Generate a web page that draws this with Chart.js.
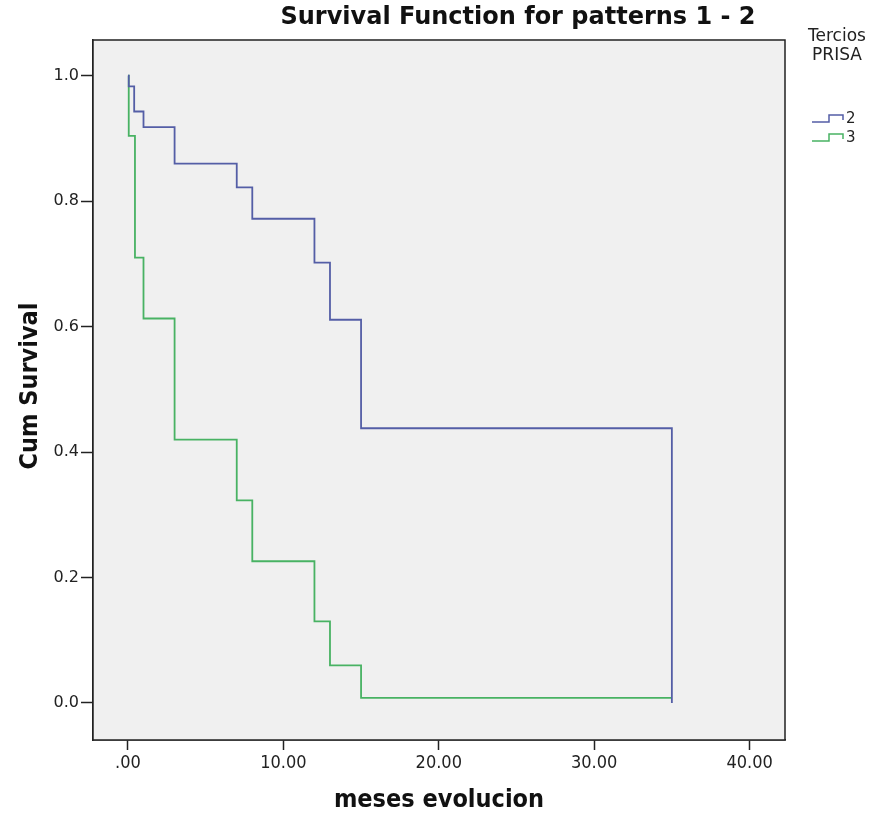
<!DOCTYPE html>
<html>
<head>
<meta charset="utf-8">
<script src="https://cdn.jsdelivr.net/npm/chart.js@4/dist/chart.umd.min.js"></script>
<style>
  html, body { margin: 0; padding: 0; background: #fff; }
  #wrap { width: 889px; height: 816px; }
</style>
</head>
<body>
<div id="wrap"><canvas id="myChart" width="889" height="816"></canvas></div>
<script>
// survival curves (time in months, cum survival after the step)
const group2Times = [0, 0.05, 0.4, 1, 3, 7, 8, 12, 13, 15, 35];
const group2Surv  = [1.0, 0.983, 0.943, 0.918, 0.86, 0.822, 0.772, 0.702, 0.611, 0.438, 0.0];
const group3Times = [0, 0.05, 0.45, 1, 3, 7, 8, 12, 13, 15, 35];
const group3Surv  = [1.0, 0.904, 0.71, 0.613, 0.42, 0.323, 0.226, 0.13, 0.06, 0.008, 0.008];
const groupLabels = ['2', '3'];
const groupColors = ['#545ea6', '#48b263'];

const titleText = 'Survival Function for patterns 1 - 2';
const xTitle = 'meses evolucion';
const yTitle = 'Cum Survival';
const legendTitle = ['Tercios', 'PRISA'];

function toPoints(xs, ys) {
    return xs.map((x, i) => ({x: x, y: ys[i]}));
}

const decor = {
    id: 'decor',
    beforeDatasetsDraw(chart) {
        const a = chart.chartArea;
        const ctx = chart.ctx;
        ctx.save();
        ctx.fillStyle = '#f0f0f0';
        ctx.fillRect(a.left, a.top, a.right - a.left, a.bottom - a.top);
        ctx.restore();
    },
    afterDraw(chart) {
        const a = chart.chartArea;
        const ctx = chart.ctx;
        ctx.save();
        // frame
        ctx.strokeStyle = '#222';
        ctx.lineWidth = 1.5;
        ctx.strokeRect(a.left, a.top, a.right - a.left, a.bottom - a.top);

        // title
        ctx.fillStyle = '#111';
        ctx.textBaseline = 'middle';
        ctx.textAlign = 'center';
        ctx.font = 'bold 24px "DejaVu Sans"';
        ctx.fillText(titleText, 518, 18);

        // axis titles
        ctx.font = 'bold 25px "DejaVu Sans Condensed", "DejaVu Sans"';
        ctx.fillText(xTitle, 439, 800);
        ctx.save();
        ctx.translate(30, 386);
        ctx.rotate(-Math.PI / 2);
        ctx.fillText(yTitle, 0, 0);
        ctx.restore();

        // legend
        ctx.font = '17px "DejaVu Sans"';
        ctx.fillStyle = '#222';
        ctx.fillText(legendTitle[0], 837, 37);
        ctx.fillText(legendTitle[1], 837, 56);
        ctx.font = '15px "DejaVu Sans"';
        ctx.textAlign = 'left';
        chart.data.datasets.forEach((ds, i) => {
            const y = 119 + i * 19;
            ctx.strokeStyle = ds.borderColor;
            ctx.lineWidth = 1.5;
            ctx.beginPath();
            ctx.moveTo(812, y + 3);
            ctx.lineTo(829, y + 3);
            ctx.lineTo(829, y - 4);
            ctx.lineTo(843, y - 4);
            ctx.lineTo(843, y + 1);
            ctx.stroke();
            ctx.fillStyle = '#222';
            ctx.fillText(ds.label, 846, y);
        });
        ctx.restore();
    }
};

const ctx = document.getElementById('myChart').getContext('2d');
const myChart = new Chart(ctx, {
    type: 'line',
    data: {
        datasets: [
            {
                label: groupLabels[0],
                data: toPoints(group2Times, group2Surv),
                stepped: 'before',
                borderColor: groupColors[0],
                borderWidth: 1.8,
                fill: false,
                pointRadius: 0
            },
            {
                label: groupLabels[1],
                data: toPoints(group3Times, group3Surv),
                stepped: 'before',
                borderColor: groupColors[1],
                borderWidth: 1.8,
                fill: false,
                pointRadius: 0
            }
        ]
    },
    options: {
        responsive: false,
        animation: false,
        layout: { padding: { top: 40, right: 104, left: 0, bottom: 0 } },
        plugins: {
            legend: { display: false },
            title: { display: false },
            tooltip: { enabled: false }
        },
        scales: {
            x: {
                type: 'linear',
                min: -2.25,
                max: 42.28,
                afterFit: (scale) => { scale.height = 76; },
                border: { display: true, color: '#222', width: 1.5 },
                grid: { drawOnChartArea: false, drawTicks: true, tickLength: 10, color: '#222', tickWidth: 1.5 },
                ticks: {
                    stepSize: 10,
                    includeBounds: false,
                    color: '#222',
                    padding: 3,
                    maxRotation: 0,
                    font: { family: '"DejaVu Sans Condensed", "DejaVu Sans"', size: 18 },
                    callback: (v) => v === 0 ? '.00' : v.toFixed(2)
                }
            },
            y: {
                type: 'linear',
                min: -0.059,
                max: 1.057,
                afterFit: (scale) => { scale.width = 93; },
                border: { display: true, color: '#222', width: 1.5 },
                grid: { drawOnChartArea: false, drawTicks: true, tickLength: 12, color: '#222', tickWidth: 1.5 },
                ticks: {
                    stepSize: 0.2,
                    includeBounds: false,
                    color: '#222',
                    padding: 2,
                    font: { family: '"DejaVu Sans"', size: 16 },
                    callback: (v) => v.toFixed(1)
                }
            }
        }
    },
    plugins: [decor]
});
</script>
</body>
</html>
